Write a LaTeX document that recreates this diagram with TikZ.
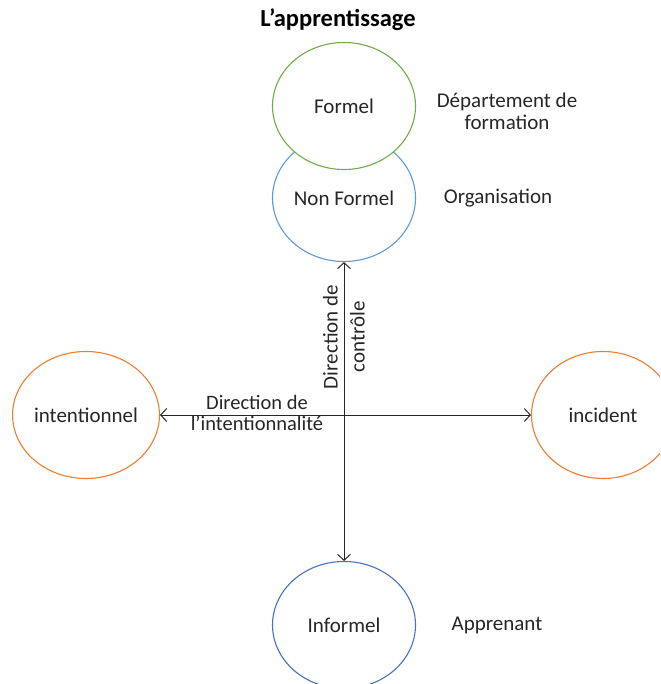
\documentclass[tikz,border=0pt]{standalone}
\usepackage{fontspec}
\setmainfont{Carlito}
\usetikzlibrary{shapes.geometric,arrows.meta}
\definecolor{ogreen}{RGB}{112,173,71}
\definecolor{lblue}{RGB}{91,155,213}
\definecolor{dblue}{RGB}{68,114,196}
\definecolor{oorange}{RGB}{237,125,49}
\definecolor{txt}{RGB}{38,38,38}
\tikzset{
  bubble/.style={ellipse, draw, line width=1.1pt, fill=white, minimum width=143pt, minimum height=127pt, inner sep=0pt, text=txt, font=\fontsize{21}{25}\selectfont},
  lbl/.style={text=txt, inner sep=0pt, align=center, font=\fontsize{21}{22}\selectfont},
  axis/.style={draw=txt, line width=1pt, {Straight Barb[length=6pt,width=13pt]}-{Straight Barb[length=6pt,width=13pt]}}
}
\begin{document}
\begin{tikzpicture}[x=1pt,y=-1pt]
\useasboundingbox (0,0) rectangle (660,684);
\clip (0,0) rectangle (660,684);
\node[lbl, text=black, font=\bfseries\fontsize{24.5}{28}\selectfont] (title) at (338,20) {L’apprentissage};
\node[bubble, draw=lblue] (nf) at (344,198) {Non Formel};
\node[bubble, draw=ogreen] (f) at (344,106) {Formel};
\node[bubble, draw=oorange] (int) at (86,415) {intentionnel};
\node[bubble, draw=oorange] (inc) at (603,415) {incident};
\node[bubble, draw=dblue] (inf) at (344,625) {Informel};
\draw[axis] (nf.south) -- (inf.north);
\draw[axis] (int.east) -- (inc.west);
\node[lbl, rotate=90, font=\fontsize{21}{27}\selectfont] (vl) at (344,337) {Direction de\\contrôle};
\node[lbl, font=\fontsize{20.5}{21}\selectfont] (hl) at (257,413) {Direction de\\l’intentionnalité};
\node[lbl] (dep) at (507,111) {Département de\\formation};
\node[lbl] (org) at (498,198) {Organisation};
\node[lbl] (app) at (497,625) {Apprenant};
\end{tikzpicture}
\end{document}
